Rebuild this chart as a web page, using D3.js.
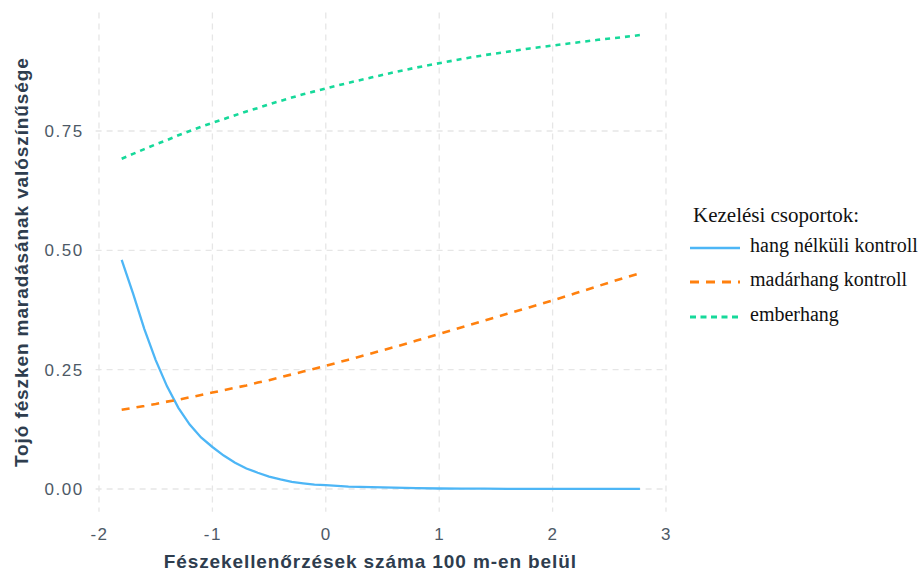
<!DOCTYPE html>
<html>
<head>
<meta charset="utf-8">
<script src="https://cdn.jsdelivr.net/npm/d3@7"></script>
<style>
  html, body { margin: 0; padding: 0; background: #ffffff; }
  svg { display: block; }
</style>
</head>
<body>
<svg id="chart" width="919" height="571"></svg>
<script>
// Predicted probability of the female staying on the nest vs. number of nest checks within 100 m
const xValues = [-1.8, -1.7, -1.6, -1.5, -1.4, -1.3, -1.2, -1.1, -1.0, -0.9, -0.8, -0.7, -0.6, -0.5, -0.4, -0.3, -0.2, -0.1, 0.0, 0.2, 0.4, 0.6, 0.8, 1.0, 1.2, 1.4, 1.6, 1.8, 2.0, 2.2, 2.4, 2.6, 2.77];

// hang nélküli kontroll
const silentControl = [0.480, 0.410, 0.335, 0.270, 0.215, 0.170, 0.135, 0.108, 0.088, 0.070, 0.055, 0.043, 0.034, 0.026, 0.020, 0.015, 0.012, 0.009, 0.008, 0.005, 0.004, 0.003, 0.002, 0.001, 0.0008, 0.0006, 0.0004, 0.0003, 0.0002, 0.0002, 0.0001, 0.0001, 0.0001];
// madárhang kontroll
const birdControl = [0.166, 0.170, 0.174, 0.178, 0.183, 0.187, 0.192, 0.197, 0.202, 0.207, 0.212, 0.217, 0.223, 0.228, 0.234, 0.240, 0.246, 0.252, 0.258, 0.271, 0.284, 0.297, 0.311, 0.325, 0.339, 0.353, 0.367, 0.381, 0.395, 0.410, 0.425, 0.440, 0.452];
// emberhang
const humanVoice = [0.692, 0.702, 0.712, 0.722, 0.731, 0.741, 0.750, 0.759, 0.767, 0.775, 0.783, 0.791, 0.798, 0.806, 0.813, 0.820, 0.827, 0.833, 0.839, 0.851, 0.862, 0.873, 0.883, 0.892, 0.901, 0.909, 0.916, 0.923, 0.929, 0.935, 0.941, 0.946, 0.951];

const groupNames = ["hang nélküli kontroll", "madárhang kontroll", "emberhang"];
const groupColors = ["#4db6f6", "#ff800e", "#16d99a"];
const groupDashes = [null, "8,7", "5,5"];

const xTicks = [-2, -1, 0, 1, 2, 3];
const yTicks = [0, 0.25, 0.5, 0.75];
const yTickLabels = ["0.00", "0.25", "0.50", "0.75"];

const xTitle = "Fészekellenőrzések száma 100 m-en belül";
const yTitle = "Tojó fészken maradásának valószínűsége";
const legendTitle = "Kezelési csoportok:";

const series = [silentControl, birdControl, humanVoice];

const svg = d3.select("#chart");

const x = d3.scaleLinear().domain([-2, 3]).range([99, 666]);
const y = d3.scaleLinear().domain([0, 0.75]).range([489, 131]);

// panel extents with ~5% expansion around the data
const xLo = -2.03, xHi = 3.01;
const yLo = -0.0475, yHi = 0.998;

const grid = svg.append("g");
grid.selectAll("line.v").data(xTicks).join("line")
  .attr("x1", d => x(d)).attr("x2", d => x(d))
  .attr("y1", y(yHi)).attr("y2", y(yLo))
  .attr("stroke", "#e6e6e6").attr("stroke-width", 1.3)
  .attr("stroke-dasharray", "6,5");
grid.selectAll("line.h").data(yTicks).join("line")
  .attr("x1", x(xLo)).attr("x2", x(xHi))
  .attr("y1", d => y(d)).attr("y2", d => y(d))
  .attr("stroke", "#e6e6e6").attr("stroke-width", 1.3)
  .attr("stroke-dasharray", "6,5");

// axes: labels only, no domain line or ticks
const xAxis = svg.append("g")
  .attr("transform", `translate(0,${y(yLo)})`)
  .call(d3.axisBottom(x).tickValues(xTicks).tickSize(0).tickPadding(16).tickFormat(d => d < 0 ? "-" + Math.abs(d) : d));
const yAxis = svg.append("g")
  .attr("transform", `translate(${x(xLo)},0)`)
  .call(d3.axisLeft(y).tickValues(yTicks).tickSize(0).tickPadding(12).tickFormat((d, i) => yTickLabels[i]));
[xAxis, yAxis].forEach(g => {
  g.select(".domain").remove();
  g.selectAll("text")
    .attr("font-family", "'Liberation Sans', Arial, sans-serif")
    .attr("font-size", 17)
    .attr("letter-spacing", 1.5)
    .attr("fill", "#4d5966");
});

const line = d3.line()
  .x((d, i) => x(xValues[i]))
  .y(d => y(d));

const lines = svg.append("g");
series.forEach((s, k) => {
  lines.append("path")
    .datum(s)
    .attr("d", line)
    .attr("fill", "none")
    .attr("stroke", groupColors[k])
    .attr("stroke-width", k === 0 ? 2.3 : 2.6)
    .attr("stroke-dasharray", groupDashes[k]);
});

// axis titles
svg.append("text")
  .attr("x", (x(xLo) + x(xHi)) / 2 - 11).attr("y", 568)
  .attr("text-anchor", "middle")
  .attr("font-family", "'Liberation Sans', Arial, sans-serif")
  .attr("font-weight", "bold").attr("font-size", 19)
  .attr("letter-spacing", 0.9)
  .attr("fill", "#2e3d4e")
  .text(xTitle);
svg.append("text")
  .attr("transform", `translate(28,${(y(yLo) + y(yHi)) / 2}) rotate(-90)`)
  .attr("text-anchor", "middle")
  .attr("font-family", "'Liberation Sans', Arial, sans-serif")
  .attr("font-weight", "bold").attr("font-size", 19)
  .attr("letter-spacing", 0.9)
  .attr("fill", "#2e3d4e")
  .text(yTitle);

// legend
const legend = svg.append("g").attr("transform", "translate(690,0)");
legend.append("text")
  .attr("x", 3).attr("y", 222)
  .attr("font-family", "'Liberation Serif', 'Times New Roman', serif")
  .attr("font-size", 21).attr("fill", "#111")
  .text(legendTitle);
const keyY = [248, 282, 317];
groupNames.forEach((name, k) => {
  legend.append("line")
    .attr("x1", 0).attr("x2", 50)
    .attr("y1", keyY[k]).attr("y2", keyY[k])
    .attr("stroke", groupColors[k])
    .attr("stroke-width", k === 0 ? 2.4 : 2.8)
    .attr("stroke-dasharray", k === 0 ? null : (k === 1 ? "9,7" : "6,4.5"));
  legend.append("text")
    .attr("x", 60).attr("y", keyY[k] + 4)
    .attr("font-family", "'Liberation Serif', 'Times New Roman', serif")
    .attr("font-size", 20).attr("fill", "#111")
    .text(name);
});
</script>
</body>
</html>
